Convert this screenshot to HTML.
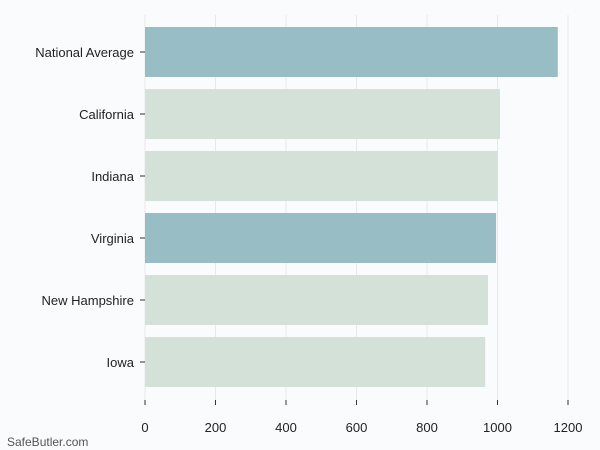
<!DOCTYPE html>
<html><head><meta charset="utf-8"><style>
html,body{margin:0;padding:0;background:#fafbfd;}
svg{display:block;font-family:"Liberation Sans","DejaVu Sans",sans-serif;}
</style></head><body>
<svg id="chart" width="600" height="450">
<rect width="600" height="450" fill="#fafbfd"/>
<g id="grid"></g><g id="bars"></g><g id="labels"></g>
<text x="7" y="446" font-size="12" fill="#555">SafeButler.com</text>
</svg>
<script>
const categories = ["National Average","California","Indiana","Virginia","New Hampshire","Iowa"];
const values = [1171,1007,1001,996,973,965];
const highlighted = [true,false,false,true,false,false];
const ticks = [0,200,400,600,800,1000,1200];
const NS="http://www.w3.org/2000/svg";
const x0=145, xScale=(568-145)/1200;
const x=v=>x0+v*xScale;
const rowTop=27, rowStep=62, barH=50;
const grid=document.getElementById('grid'), bars=document.getElementById('bars'), labels=document.getElementById('labels');
ticks.forEach(t=>{
  const l=document.createElementNS(NS,'line');
  l.setAttribute('x1',x(t));l.setAttribute('x2',x(t));l.setAttribute('y1',15);l.setAttribute('y2',400);
  l.setAttribute('stroke','#e6e8ea');l.setAttribute('stroke-width','1');
  
  
  grid.appendChild(l);
  const tk=document.createElementNS(NS,'line');
  tk.setAttribute('x1',x(t));tk.setAttribute('x2',x(t));tk.setAttribute('y1',400);tk.setAttribute('y2',405);
  tk.setAttribute('stroke','#333');
  
  
  grid.appendChild(tk);
  const tx=document.createElementNS(NS,'text');
  tx.setAttribute('x',x(t));tx.setAttribute('y',432);tx.setAttribute('text-anchor','middle');
  tx.setAttribute('font-size','13');tx.setAttribute('fill','#222');
  tx.textContent=t;
  
  
  labels.appendChild(tx);
});
categories.forEach((c,i)=>{
  const y=rowTop+i*rowStep+(62-barH)/2-6;
  const r=document.createElementNS(NS,'rect');
  r.setAttribute('x',x(0));r.setAttribute('y',y);r.setAttribute('width',x(values[i])-x(0));r.setAttribute('height',barH);
  r.setAttribute('fill',highlighted[i]?'#98bdc5':'#d4e1d8');
  
  
  bars.appendChild(r);
  const tk=document.createElementNS(NS,'line');
  tk.setAttribute('x1',140);tk.setAttribute('x2',145);tk.setAttribute('y1',y+barH/2);tk.setAttribute('y2',y+barH/2);
  tk.setAttribute('stroke','#333');
  
  
  labels.appendChild(tk);
  const tx=document.createElementNS(NS,'text');
  tx.setAttribute('x',134);tx.setAttribute('y',y+barH/2+5);tx.setAttribute('text-anchor','end');
  tx.setAttribute('font-size','13');tx.setAttribute('fill','#222');
  tx.textContent=c;
  
  
  labels.appendChild(tx);
});
</script>
</body></html>
